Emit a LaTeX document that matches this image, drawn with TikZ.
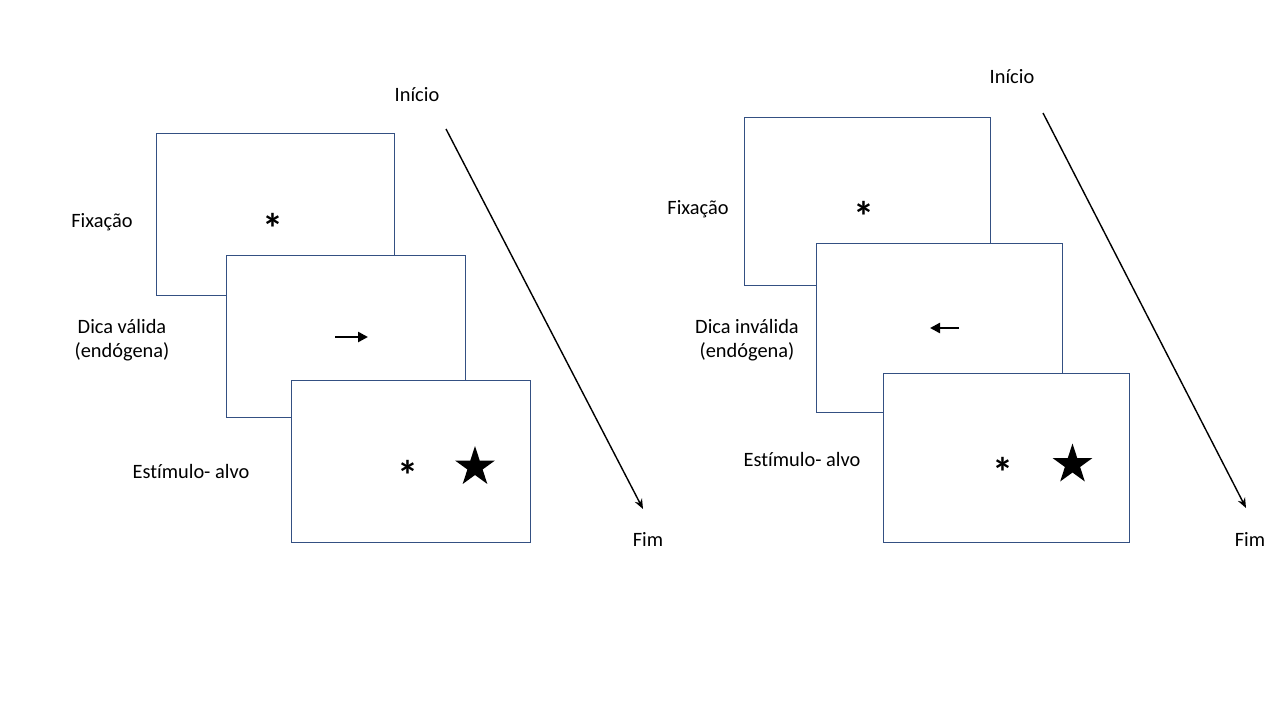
\documentclass[tikz,border=0pt]{standalone}
\usepackage{fontspec}
\setmainfont{Carlito}[Ligatures=NoCommon]
\usepackage{tikz}
\usetikzlibrary{arrows.meta, positioning, shapes.geometric, calc}
\definecolor{frameblue}{RGB}{52, 80, 130}

\begin{document}
\begin{tikzpicture}[x=0.02cm, y=-0.02cm, >=Stealth, font=\fontsize{11.6}{13.6}\selectfont,
  screen/.style={draw=frameblue, fill=white, line width=0.55pt, inner sep=0pt, minimum width=4.78cm, minimum height=3.24cm},
  widescreen/.style={screen, minimum width=4.92cm, minimum height=3.37cm},
  fixpt/.style={font=\fontsize{24}{24}\selectfont\bfseries, inner sep=0pt},
  target/.style={star, star points=5, star point ratio=2.618, fill=black, inner sep=0pt, minimum size=0.84cm},
  cue/.style={line width=1.4pt, -{Triangle[length=2mm, width=2mm]}},
  timeline/.style={line width=0.8pt, -{Stealth[length=2mm, width=1.6mm]}}]
  \useasboundingbox (0,0) rectangle (1280,720);

  % ensaio valido
  \node[screen] (fixA) at (275.5,214) {};
  \node[fixpt] (astA) at (273,228) {*};
  \node[screen] (cueA) at (346,336) {};
  \coordinate (cA0) at (335,337);
  \coordinate (cA1) at (368,337);
  \draw[cue] (cA0) -- (cA1);
  \node[screen] (tgtA) at (410.5,461) {};
  \node[fixpt] (astA2) at (408,475) {*};
  \node[target] (starA) at (475,467) {};
  \node (fixLblA) at (102,222) {Fixação};
  \node[align=center] (cueLblA) at (122,340) {Dica válida\\(endógena)};
  \node (tgtLblA) at (191,471) {Estímulo- alvo};
  \node (iniA) at (417,95) {Início};
  \node (fimA) at (648,539) {Fim};
  \coordinate (tA0) at (446,129);
  \coordinate (tA1) at (643,509);
  \draw[timeline] (tA0) -- (tA1);

  % ensaio invalido
  \node[widescreen] (fixB) at (867,201.5) {};
  \node[fixpt] (astB) at (864,216) {*};
  \node[widescreen] (cueB) at (939,328) {};
  \coordinate (cB0) at (959,328);
  \coordinate (cB1) at (930,328);
  \draw[cue] (cB0) -- (cB1);
  \node[widescreen] (tgtB) at (1006,458) {};
  \node[fixpt] (astB2) at (1003,472) {*};
  \node[target] (starB) at (1072.5,464.5) {};
  \node (fixLblB) at (698,209) {Fixação};
  \node[align=center] (cueLblB) at (747,340) {Dica inválida\\(endógena)};
  \node (tgtLblB) at (802,459) {Estímulo- alvo};
  \node (iniB) at (1012,77) {Início};
  \node (fimB) at (1250,539) {Fim};
  \coordinate (tB0) at (1043,113);
  \coordinate (tB1) at (1246,508);
  \draw[timeline] (tB0) -- (tB1);
\end{tikzpicture}
\end{document}
